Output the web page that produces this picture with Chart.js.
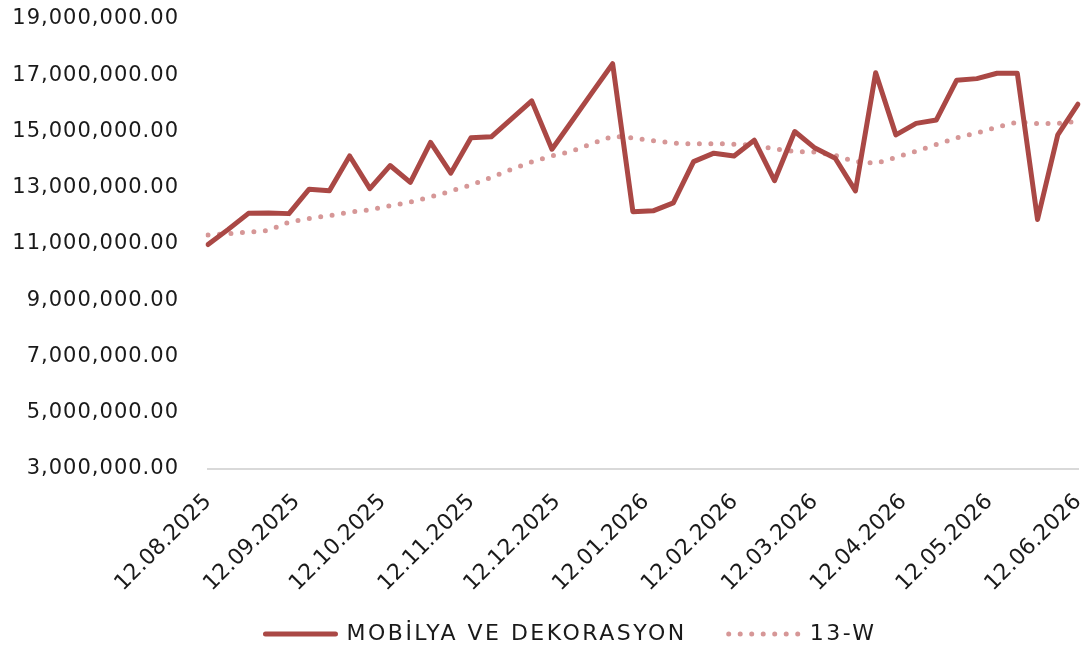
<!DOCTYPE html>
<html><head><meta charset="utf-8">
<script src="https://cdn.jsdelivr.net/npm/chart.js@4"></script>
<style>html,body{margin:0;padding:0;background:#fff}#wrap{width:1089px;height:650px}</style>
</head><body><div id="wrap"><canvas id="c" width="1089" height="650"></canvas></div>
<script>
const weeks = ['12.08.2025','19.08.2025','26.08.2025','02.09.2025','09.09.2025','16.09.2025','23.09.2025','30.09.2025',
 '07.10.2025','14.10.2025','21.10.2025','28.10.2025','04.11.2025','11.11.2025','18.11.2025','25.11.2025',
 '02.12.2025','09.12.2025','16.12.2025','23.12.2025','30.12.2025','06.01.2026','13.01.2026','20.01.2026','27.01.2026',
 '03.02.2026','10.02.2026','17.02.2026','24.02.2026','03.03.2026','10.03.2026','17.03.2026','24.03.2026','31.03.2026',
 '07.04.2026','14.04.2026','21.04.2026','28.04.2026','05.05.2026','12.05.2026','19.05.2026','26.05.2026','02.06.2026','09.06.2026'];
const mobilya = [10.98,11.52,12.09,12.10,12.08,12.95,12.89,14.13,12.97,13.79,13.19,14.61,13.52,14.78,14.81,15.45,
 16.09,14.37,15.38,16.40,17.41,12.15,12.18,12.46,13.93,14.23,14.13,14.69,13.25,15.00,14.41,14.05,12.89,17.09,
 14.88,15.29,15.41,16.82,16.88,17.07,17.07,11.87,14.88,15.97].map(v => v * 1e6);
const w13 = [11.32,11.37,11.42,11.48,11.78,11.91,12.01,12.13,12.22,12.36,12.49,12.67,12.88,13.10,13.37,13.66,
 13.92,14.13,14.30,14.58,14.83,14.77,14.67,14.59,14.56,14.57,14.55,14.51,14.38,14.29,14.27,14.15,13.93,13.87,
 14.08,14.30,14.54,14.77,14.95,15.15,15.34,15.28,15.29,15.36].map(v => v * 1e6);
const tickLabels = ['12.08.2025','12.09.2025','12.10.2025','12.11.2025','12.12.2025','12.01.2026',
 '12.02.2026','12.03.2026','12.04.2026','12.05.2026','12.06.2026'];

function parseD(s){const p=s.split('.').map(Number);return Date.UTC(p[2],p[1]-1,p[0]);}
const t0 = parseD(tickLabels[0]);
const tickDays = tickLabels.map(s => (parseD(s) - t0) / 86400000);

const FONT = 'DejaVu Sans';
const TXT = '#1a1a1a';

// Wrap a method so it runs with a given canvas letter spacing (and optional x shift)
function withSpacing(obj, fn, spacing, dx) {
  const orig = obj[fn];
  obj[fn] = function () {
    const ctx = this.ctx; ctx.save(); ctx.letterSpacing = spacing;
    if (dx) ctx.translate(dx, 0);
    const r = orig.apply(this, arguments); ctx.restore(); return r;
  };
}

const textTweak = {
  id: 'textTweak',
  beforeLayout(chart) {
    const lg = chart.legend;
    if (lg && !lg._wrapped) {
      lg._wrapped = true;
      withSpacing(lg, 'fit', '2.5px', 0);
      withSpacing(lg, 'draw', '2.5px', 32);
    }
  }
};

new Chart(document.getElementById('c'), {
  type: 'line',
  data: {
    labels: weeks,
    datasets: [
      { label: 'MOBİLYA VE DEKORASYON', data: mobilya, borderColor: '#AA4845', backgroundColor: '#AA4845',
        borderWidth: 5, pointRadius: 0, borderCapStyle: 'round', borderJoinStyle: 'round', tension: 0 },
      { label: '13-W', data: w13, borderColor: '#D69797', backgroundColor: '#D69797',
        borderWidth: 5, pointRadius: 0, borderDash: [0, 11.5], borderCapStyle: 'round', tension: 0 }
    ]
  },
  plugins: [textTweak],
  options: {
    responsive: false, animation: false,
    layout: { padding: { top: 19, right: 11, left: 0, bottom: 0 } },
    plugins: {
      legend: { position: 'bottom', maxHeight: 69,
        labels: { usePointStyle: true, pointStyle: 'line', pointStyleWidth: 70, color: TXT, padding: 42,
          font: { family: FONT, size: 22 },
          generateLabels: (chart) => chart.data.datasets.map((ds, i) => ({
            text: ds.label, fillStyle: ds.backgroundColor, strokeStyle: ds.borderColor,
            lineWidth: ds.borderWidth, lineDash: ds.borderDash || [], lineCap: 'round',
            pointStyle: 'line', fontColor: TXT, hidden: false, datasetIndex: i })) } },
      tooltip: { enabled: false }
    },
    scales: {
      x: { display: false, offset: false },
      xd: { type: 'linear', position: 'bottom', min: 0, max: tickDays[tickDays.length-1], offset: false,
        grid: { display: false, drawTicks: false },
        border: { display: true, color: '#d9d9d9', width: 2 },
        afterBuildTicks: s => { s.ticks = tickDays.map(v => ({ value: v })); },
        afterFit: s => { s.height = 112; s.paddingLeft = 0; s.paddingRight = 0; s._computeLabelArea = () => undefined; },
        ticks: { autoSkip: false, minRotation: 45, maxRotation: 45, padding: 20, color: TXT,
          font: { family: FONT, size: 22 },
          callback: (v) => tickLabels[tickDays.indexOf(v)] }
      },
      y: { min: 3e6, max: 19e6,
        grid: { display: false, drawTicks: false }, border: { display: false },
        afterFit: s => {
          s.width = 208; s.paddingTop = 0; s.paddingBottom = 0;
          if (!s._wrapped) { s._wrapped = true; withSpacing(s, 'drawLabels', '1px', 0); }
        },
        ticks: { stepSize: 2e6, padding: 29, color: TXT, font: { family: FONT, size: 21 },
          callback: v => Number(v).toLocaleString('en-US', { minimumFractionDigits: 2, maximumFractionDigits: 2 }) }
      }
    }
  }
});
</script></body></html>
